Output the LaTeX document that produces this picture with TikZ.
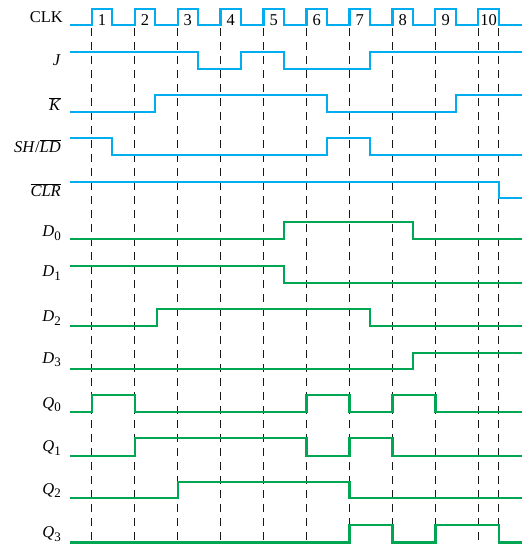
\documentclass[tikz,border=0pt]{standalone}
\usepackage{fontspec}
\setmainfont{Liberation Serif}
\definecolor{sigblue}{HTML}{00AEEF}
\definecolor{siggreen}{HTML}{00A651}
\newcommand{\subl}[2]{\textit{#1}\raisebox{-3.5pt}{\fontsize{13}{13}\selectfont #2}}
\newcommand{\bartxt}[1]{$\overline{\mbox{\textit{#1}}}$}
\begin{document}
\begin{tikzpicture}[x=1pt, y=-1pt, every node/.style={font=\fontsize{16.5}{17}\selectfont, inner sep=0pt}]
  \tikzstyle{sigb}=[sigblue, line width=2.2pt]
  \tikzstyle{sigg}=[siggreen, line width=2.2pt]
  \tikzstyle{tick}=[black!90, line width=1pt, dash pattern=on 7.5pt off 6.5pt]
  \tikzstyle{lbl}=[anchor=base east]
  \useasboundingbox (0,0) rectangle (528,544);
  % clock edges (dashed)
  \foreach \x in {91.7,134.7,177.6,220.6,263.5,306.5,349.5,392.4,435.4,478.3,498.8}
    \draw[tick] (\x,28) -- (\x,543);
  % labels
  \node[lbl] (lclk) at (63,22.5) {CLK};
  \node[lbl] (lj) at (61,65) {\textit{J}};
  \node[lbl] (lk) at (61,110.7) {\bartxt{K}};
  \node[lbl] (lsh) at (61,152.7) {\textit{SH}/\bartxt{LD}};
  \node[lbl] (lclr) at (61,196.7) {\bartxt{CLR}};
  \node[lbl] (ld0) at (61,236.5) {\subl{D}{0}};
  \node[lbl] (ld1) at (61,276.7) {\subl{D}{1}};
  \node[lbl] (ld2) at (61,321.7) {\subl{D}{2}};
  \node[lbl] (ld3) at (61,363.3) {\subl{D}{3}};
  \node[lbl] (lq0) at (61,408.3) {\subl{Q}{0}};
  \node[lbl] (lq1) at (61,451.7) {\subl{Q}{1}};
  \node[lbl] (lq2) at (61,494.3) {\subl{Q}{2}};
  \node[lbl] (lq3) at (61,537.7) {\subl{Q}{3}};
  % clock pulses and numbers
  \draw[sigb] (70,25) \foreach \i in {0,...,9} { -- ({91.7+42.96*\i},25) -- ++(0,-16) -- ++(20.5,0) -- ++(0,16) } -- (522,25);
  \foreach \i in {1,...,10}
    \node[anchor=base] (n\i) at ({91.7+42.96*(\i-1)+10.25},25) {\i};
  % inputs
  \draw[sigb] (70,51.7) -| (198.1,69) -| (241.1,51.7) -| (284,69) -| (370,51.7) -- (522,51.7);
  \draw[sigb] (70,111.7) -| (155.2,95) -| (327,111.7) -| (455.9,95) -- (522,95);
  \draw[sigb] (70,138.3) -| (112.2,155) -| (327,138.3) -| (370,155) -- (522,155);
  \draw[sigb] (70,181.7) -| (498.8,198.3) -- (522,198.3);
  % parallel data
  \draw[sigg] (70,239) -| (284,222.3) -| (412.9,239) -- (522,239);
  \draw[sigg] (70,265.7) -| (284,283.3) -- (522,283.3);
  \draw[sigg] (70,326) -| (157,309.3) -| (370,326) -- (522,326);
  \draw[sigg] (70,369) -| (412.9,352.7) -- (522,352.7);
  % outputs
  \draw[sigg] (70,412.3) -| (91.7,395) -| (134.7,412.3) -| (306.5,395) -| (349.5,412.3) -| (392.4,395) -| (435.4,412.3) -- (522,412.3);
  \draw[sigg] (70,455.7) -| (134.7,438.3) -| (306.5,455.7) -| (349.5,438.3) -| (392.4,455.7) -- (522,455.7);
  \draw[sigg] (70,498.3) -| (177.6,482.3) -| (349.5,498.3) -- (522,498.3);
  \draw[sigg] (70,542.5) -| (349.5,525) -| (392.4,542.5) -| (435.4,525) -| (498.8,542.5) -- (522,542.5);
\end{tikzpicture}
\end{document}
